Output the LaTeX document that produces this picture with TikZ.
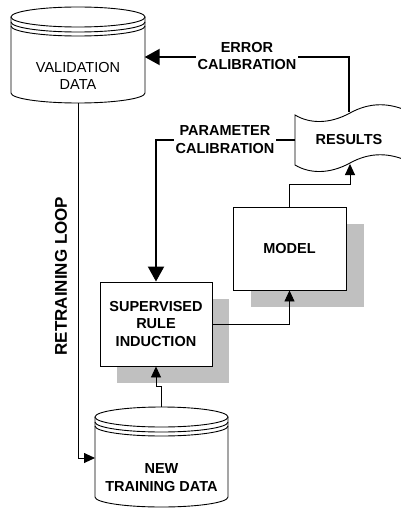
\documentclass[tikz,border=0pt]{standalone}
\usepackage{fontspec}
\setmainfont{Liberation Sans}
\usetikzlibrary{arrows.meta,calc}
\definecolor{shadowgray}{RGB}{192,192,192}
\begin{document}
\begin{tikzpicture}[x=1pt,y=-1pt,
  outline/.style={line width=0.9pt},
  thickflow/.style={line width=2pt,-{Triangle[length=15pt,width=16pt]}},
  thinflow/.style={line width=0.9pt,-{Triangle[length=11pt,width=10pt]}},
  procbox/.style={draw,line width=0.9pt,fill=white,minimum width=112pt,
    minimum height=84pt,inner sep=0pt,align=center,
    font=\bfseries\fontsize{14.5}{17.5}\selectfont},
  shadowbox/.style={fill=shadowgray,draw=none,minimum width=112pt,
    minimum height=84pt,inner sep=0pt},
  flowtext/.style={fill=white,inner sep=2pt,align=center,
    font=\bfseries\fontsize{14.5}{17.5}\selectfont},
  dbtext/.style={align=center,inner sep=0pt},
  dbarea/.style={inner sep=0pt,minimum width=133pt,minimum height=96pt}
]
\useasboundingbox (0,0) rectangle (401,508);

% ---- validation data store ----
\node[dbarea] (val) at (78,55) {};
\draw[outline,fill=white] (11,17) -- (11,93)
  arc[start angle=180,end angle=0,x radius=67,y radius=10] -- (145,17);
\draw[outline,fill=white] (78,17) ellipse[x radius=67,y radius=10];
\draw[outline] (11,22) arc[start angle=180,end angle=0,x radius=67,y radius=10];
\draw[outline] (11,26) arc[start angle=180,end angle=0,x radius=67,y radius=10];
\node[dbtext,font=\fontsize{14.5}{17}\selectfont] (valtext) at (78,76) {VALIDATION\\DATA};

% ---- new training data store ----
\node[dbarea,minimum height=100pt] (trn) at (161.5,457) {};
\draw[outline,fill=white] (95,417) -- (95,497)
  arc[start angle=180,end angle=0,x radius=66.5,y radius=10] -- (228,417);
\draw[outline,fill=white] (161.5,417) ellipse[x radius=66.5,y radius=10];
\draw[outline] (95,422) arc[start angle=180,end angle=0,x radius=66.5,y radius=10];
\draw[outline] (95,426) arc[start angle=180,end angle=0,x radius=66.5,y radius=10];
\node[dbtext,font=\bfseries\fontsize{14.5}{18}\selectfont] (trntext) at (161.5,478) {NEW\\TRAINING DATA};

% ---- process boxes with drop shadows ----
\node[shadowbox] (sriShadow) at (173,340.5) {};
\node[shadowbox,minimum width=113pt,minimum height=83pt] (modShadow) at (307,265.5) {};
\node[procbox] (sri) at (156,324) {SUPERVISED\\RULE\\INDUCTION};
\node[procbox,minimum width=113pt,minimum height=83pt] (mod) at (289.5,248.5) {MODEL};

% ---- results document ----
\draw[outline,fill=white] (412,113) .. controls (390,102) and (370,102) .. (350,113)
  .. controls (330,124) and (310,124) .. (295,115) -- (295,165)
  .. controls (310,174) and (330,174) .. (350,163)
  .. controls (370,152) and (390,152) .. (412,163);
\node[font=\bfseries\fontsize{14.5}{17.5}\selectfont] (res) at (349,140) {RESULTS};
\coordinate (resTop) at (349,112);
\coordinate (resBot) at (350,164);
\coordinate (resLeft) at (295,140);
\coordinate (errCorner) at (349,57);
\coordinate (trnIn) at (95,458);

% ---- thin flows ----
\draw[thinflow] (trn.north) -- ++(0,-20) -| (sri.south);
\draw[thinflow] (sri.east) -| (mod.south);
\draw[thinflow] (mod.north) -- ++(0,-22) -| (resBot);
\draw[thinflow] (val.south) |- (trnIn);

% ---- calibration feedback ----
\draw[thickflow] (resTop) -- (errCorner) -- (errCorner -| val.east);
\draw[thickflow] (resLeft) -| (sri.north);
\node[flowtext] (errtext) at (247,56) {ERROR\\CALIBRATION};
\node[flowtext] (partext) at (225,139.5) {PARAMETER\\CALIBRATION};

% ---- retraining loop label ----
\node[rotate=90,font=\bfseries\fontsize{17}{20}\selectfont] (loop) at (61,276) {RETRAINING LOOP};
\end{tikzpicture}
\end{document}
